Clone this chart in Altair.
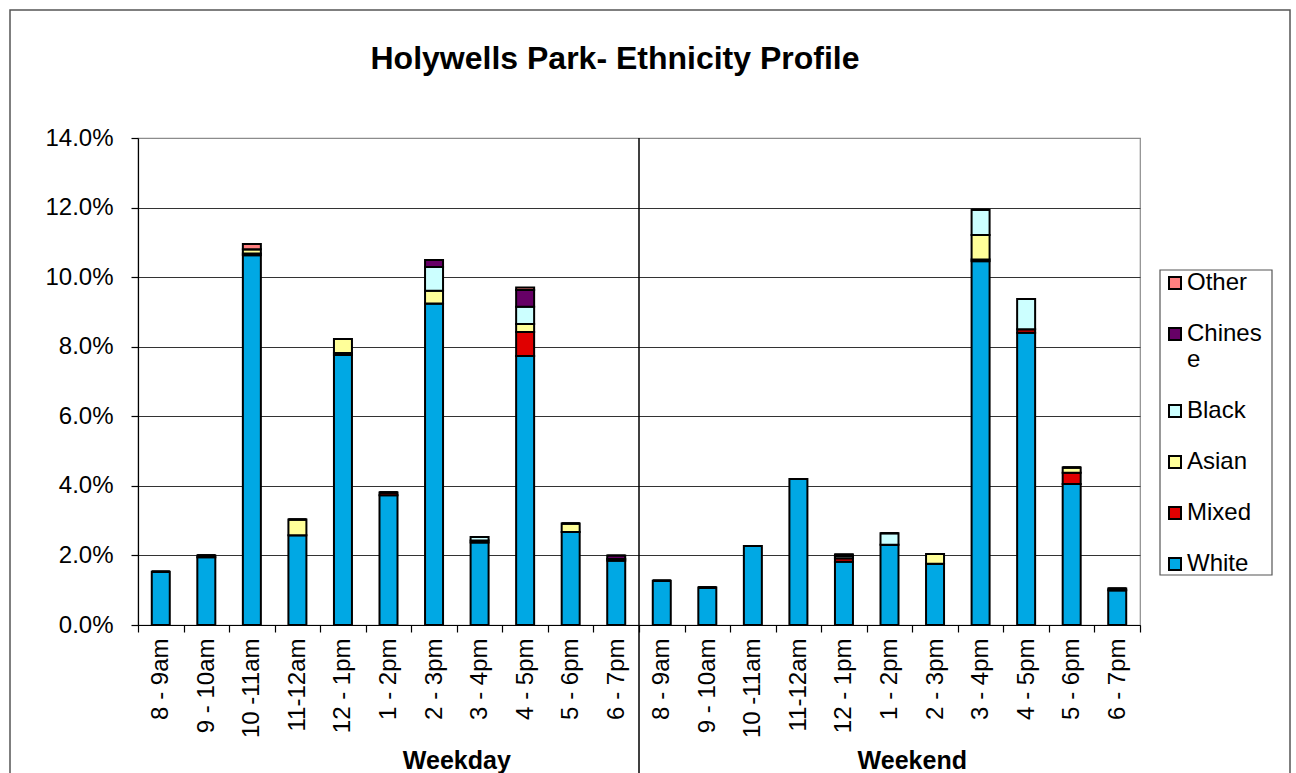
import altair as alt
import pandas as pd

# Categories
times = ["8 - 9am", "9 - 10am", "10 -11am", "11-12am", "12 - 1pm", "1 - 2pm",
         "2 - 3pm", "3 - 4pm", "4 - 5pm", "5 - 6pm", "6 - 7pm"]
groups = ["Weekday", "Weekend"]
ethnicities = ["White", "Mixed", "Asian", "Black", "Chinese", "Other"]
legend_order = ["Other", "Chinese", "Black", "Asian", "Mixed", "White"]
legend_colors = ["#FF8080", "#660066", "#CCFFFF", "#FFFF99", "#E00000", "#00A8E4"]

# Share of all visitors (%) per time slot
weekday_white = [1.53, 1.95, 10.63, 2.58, 7.76, 3.73, 9.24, 2.37, 7.73, 2.67, 1.85]
weekday_mixed = [0.0, 0.05, 0.05, 0.0, 0.06, 0.08, 0.0, 0.06, 0.69, 0.0, 0.05]
weekday_asian = [0.0, 0.0, 0.12, 0.45, 0.40, 0.0, 0.37, 0.0, 0.23, 0.25, 0.0]
weekday_black = [0.0, 0.0, 0.0, 0.0, 0.0, 0.0, 0.68, 0.10, 0.50, 0.0, 0.0]
weekday_chinese = [0.0, 0.0, 0.0, 0.0, 0.0, 0.0, 0.20, 0.0, 0.48, 0.0, 0.10]
weekday_other = [0.0, 0.0, 0.15, 0.0, 0.0, 0.0, 0.0, 0.0, 0.07, 0.0, 0.0]

weekend_white = [1.27, 1.08, 2.27, 4.20, 1.82, 2.31, 1.76, 10.46, 8.40, 4.05, 1.00]
weekend_mixed = [0.0, 0.0, 0.0, 0.0, 0.10, 0.0, 0.0, 0.05, 0.10, 0.33, 0.0]
weekend_asian = [0.0, 0.0, 0.0, 0.0, 0.0, 0.0, 0.28, 0.70, 0.0, 0.15, 0.0]
weekend_black = [0.0, 0.0, 0.0, 0.0, 0.06, 0.33, 0.0, 0.73, 0.87, 0.0, 0.05]
weekend_chinese = [0.0, 0.0, 0.0, 0.0, 0.05, 0.0, 0.0, 0.0, 0.0, 0.0, 0.0]
weekend_other = [0.0] * 11

series = {
    "Weekday": [weekday_white, weekday_mixed, weekday_asian, weekday_black,
                weekday_chinese, weekday_other],
    "Weekend": [weekend_white, weekend_mixed, weekend_asian, weekend_black,
                weekend_chinese, weekend_other],
}

rows = []
for g in groups:
    for rank, (eth, values) in enumerate(zip(ethnicities, series[g])):
        for t, v in zip(times, values):
            rows.append({"slot": f"{g}|{t}", "ethnicity": eth, "rank": rank,
                         "share": v / 100})
df = pd.DataFrame(rows)
slots = [f"{g}|{t}" for g in groups for t in times]

FONT = "Liberation Sans, Arial, sans-serif"
W, H = 1002, 487
x_scale = alt.Scale(domain=slots, paddingInner=0, paddingOuter=0)
x_axis = alt.Axis(labelAngle=270, labelExpr="split(datum.label, '|')[1]",
                  tickBand="extent", tickSize=7, labelPadding=6, title="",
                  grid=False, labelFontSize=24, labelFont=FONT,
                  labelColor="black", domainColor="black", tickColor="black")

bars = alt.Chart(df).mark_bar(size=18, stroke="black", strokeWidth=2).encode(
    x=alt.X("slot:N", scale=x_scale, sort=slots, axis=x_axis),
    y=alt.Y("share:Q", stack="zero", title="",
            scale=alt.Scale(domain=[0, 0.14], nice=False),
            axis=alt.Axis(values=[0, 0.02, 0.04, 0.06, 0.08, 0.10, 0.12, 0.14],
                          format=".1%", tickSize=7, labelPadding=18,
                          labelFontSize=24, labelFont=FONT, labelColor="black",
                          domainColor="black", tickColor="black",
                          gridColor={"condition": {"test": "datum.value >= 0.139",
                                                   "value": "#8c8c8c"},
                                     "value": "#333333"})),
    color=alt.Color("ethnicity:N",
                    scale=alt.Scale(domain=legend_order, range=legend_colors),
                    legend=alt.Legend(title="", orient="none", legendX=1025,
                                      legendY=133, padding=0,
                                      symbolType="square", symbolSize=144,
                                      symbolStrokeColor="black",
                                      symbolStrokeWidth=2, labelFontSize=24,
                                      labelFont=FONT, labelColor="black",
                                      labelOffset=0, rowPadding=27,
                                      clipHeight=24,
                                      labelExpr="datum.label == 'Chinese' ? ['Chines', 'e'] : datum.label")),
    order=alt.Order("rank:Q", sort="ascending"),
)

# Vertical line separating weekday and weekend slots
divider = alt.Chart(pd.DataFrame({"slot": ["Weekend|8 - 9am"]})).mark_rule(
    color="black", strokeWidth=1.5).encode(
    x=alt.X("slot:N", scale=x_scale, bandPosition=0, axis=x_axis),
    y=alt.value(0), y2=alt.value(H + 170))

# Group captions below the slot labels
group_df = pd.DataFrame({"slot": ["Weekday|3 - 4pm", "Weekend|2 - 3pm"],
                         "label": groups})
group_text = alt.Chart(group_df).mark_text(
    font=FONT, fontSize=25, fontWeight="bold", color="black",
    baseline="alphabetic").encode(
    x=alt.X("slot:N", scale=x_scale, bandPosition=0, axis=x_axis),
    y=alt.value(H + 144), text="label:N")

# Chart-area frame and legend box
frame = alt.Chart(pd.DataFrame({"k": [0]})).mark_rect(
    fillOpacity=0, stroke="#555555", strokeWidth=1.5).encode(
    x=alt.value(-128), x2=alt.value(1152), y=alt.value(-128), y2=alt.value(H + 220))
legend_box = alt.Chart(pd.DataFrame({"k": [0]})).mark_rect(
    fillOpacity=0, stroke="#555555", strokeWidth=1.2).encode(
    x=alt.value(1022), x2=alt.value(1134), y=alt.value(132), y2=alt.value(437))

chart = alt.layer(frame, legend_box, bars, divider, group_text).properties(
    width=W, height=H,
    autosize=alt.AutoSizeParams(type="none"),
    padding={"left": 138, "top": 138, "right": 156, "bottom": 148},
    title=alt.TitleParams("Holywells Park- Ethnicity Profile", font=FONT,
                          fontSize=32, fontWeight="bold", color="black",
                          anchor="middle", frame="group", dx=-24, offset=-92,
                          baseline="alphabetic"),
).configure_view(stroke="#8c8c8c", strokeWidth=1.2).configure_axis(
    domainWidth=1.2, tickWidth=1.2, gridWidth=1)

chart.save("out.html", embed_options={"renderer": "svg", "actions": False})
